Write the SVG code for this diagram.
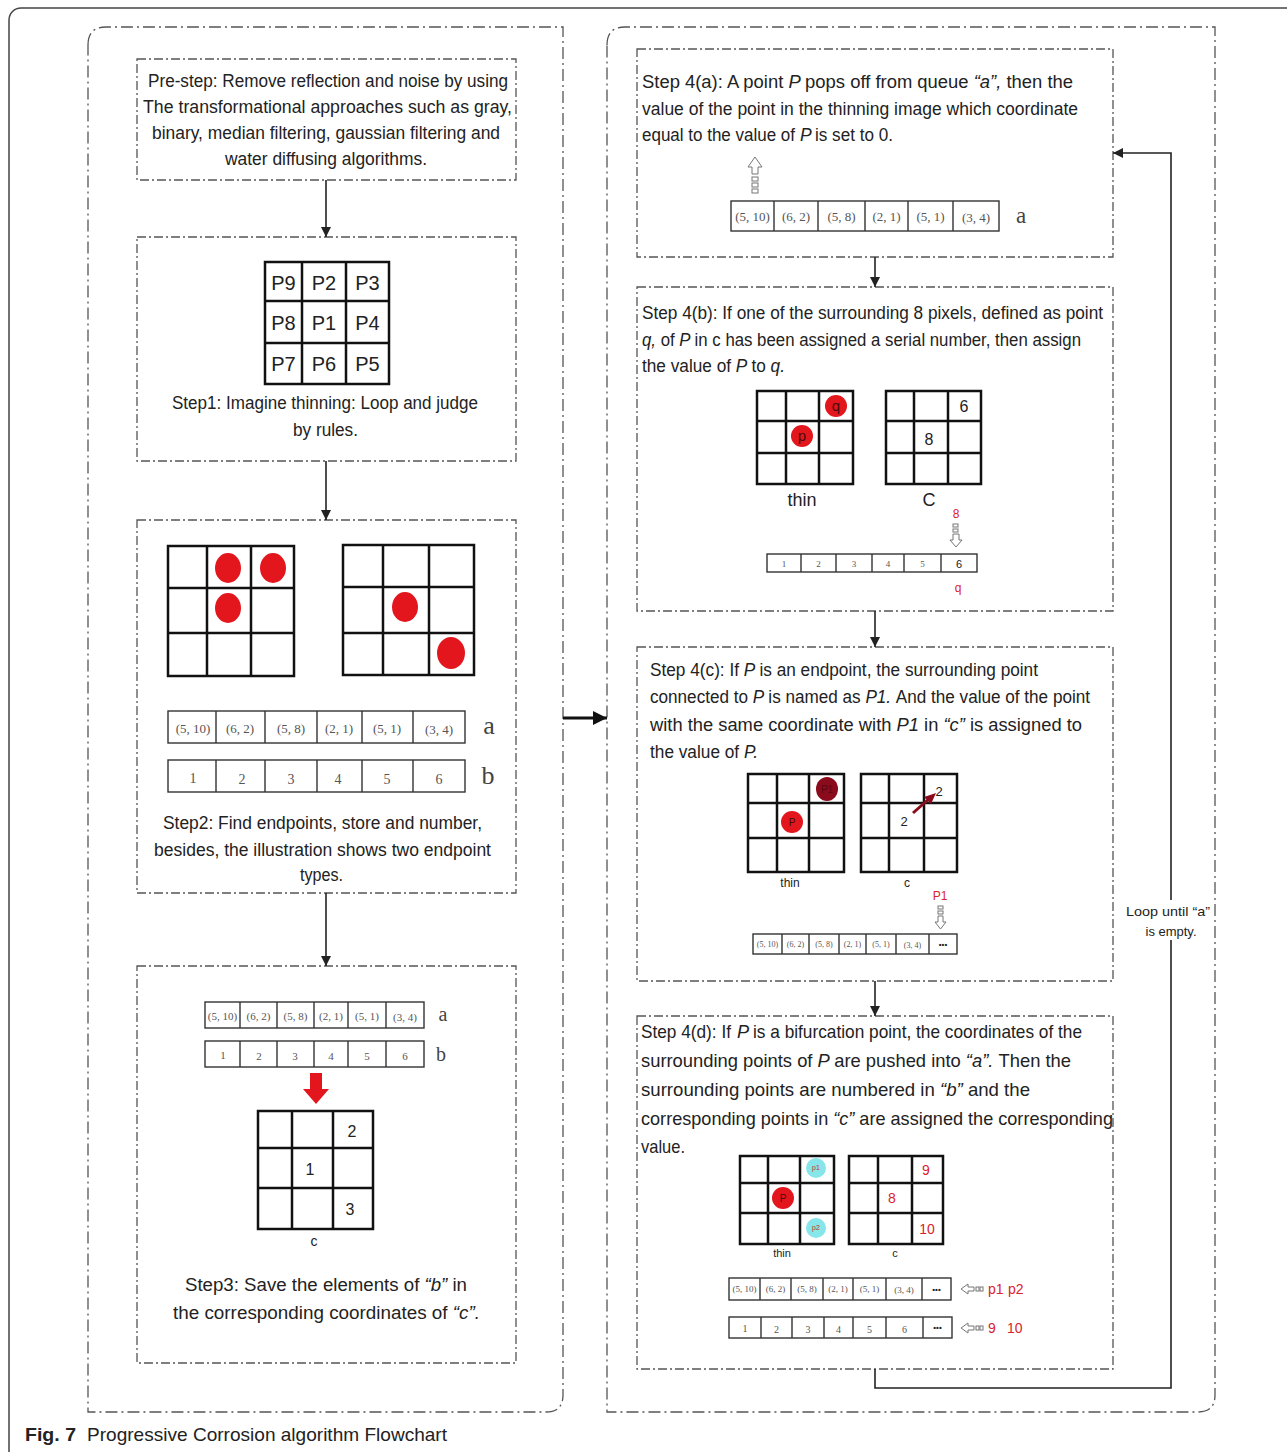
<svg xmlns="http://www.w3.org/2000/svg" width="1287" height="1452" viewBox="0 0 1287 1452">
<style>
.frame{fill:none;stroke:#444;stroke-width:1.5}
.panel{fill:none;stroke:#555;stroke-width:1.3;stroke-dasharray:12 4 2 4}
.box{fill:none;stroke:#555;stroke-width:1.3;stroke-dasharray:9 3 2 3}
.grid{fill:none;stroke:#111;stroke-width:2.5}
.gl{stroke:#111;stroke-width:2.5}
.arr{fill:#fff;stroke:#333;stroke-width:1.4}
.al{stroke:#333;stroke-width:1.4}
.t{font-family:"Liberation Sans",Arial,sans-serif;font-size:17.5px;fill:#222}
.t19{font-family:"Liberation Sans",Arial,sans-serif;font-size:18.2px;fill:#222}
.tm{font-family:"Liberation Sans",Arial,sans-serif;fill:#222;text-anchor:middle}
.lab{font-family:"Liberation Sans",Arial,sans-serif;fill:#4a0a0a;text-anchor:middle}
.sf{font-family:"Liberation Serif","Times New Roman",serif;fill:#555;text-anchor:middle}
.ab{font-family:"Liberation Serif","Times New Roman",serif;fill:#444;text-anchor:middle}
.red{fill:#e3161e}
.rt{font-family:"Liberation Sans",Arial,sans-serif;fill:#d9232a;text-anchor:middle}
.rs{font-family:"Liberation Sans",Arial,sans-serif;fill:#d9232a;text-anchor:start}
.hol{fill:#fff;stroke:#777;stroke-width:1}
.con{fill:none;stroke:#222;stroke-width:1.6}
.dots{font-family:"Liberation Sans",Arial,sans-serif;font-weight:bold;fill:#222;text-anchor:middle}
.i{font-style:italic}
</style>
<defs>
<marker id="ah" viewBox="0 0 10 10" refX="10" refY="5" markerWidth="10" markerHeight="10" markerUnits="userSpaceOnUse" orient="auto"><path d="M0,0 L10,5 L0,10 z" fill="#222"/></marker>
<marker id="ah2" viewBox="0 0 10 10" refX="10" refY="5" markerWidth="14" markerHeight="14" markerUnits="userSpaceOnUse" orient="auto"><path d="M0,0 L10,5 L0,10 z" fill="#111"/></marker>
</defs>
<rect width="1287" height="1452" fill="#fff"/>
<rect class="frame" x="9" y="8" width="1300" height="1462" rx="12"/>

<!-- panels -->
<path class="panel" d="M88,45 Q88,27 106,27 H563 V1395 Q563,1412 546,1412 H88 Z"/>
<path class="panel" d="M607,45 Q607,27 625,27 H1215 V1395 Q1215,1412 1198,1412 H607 Z"/>

<!-- Pre-step -->
<g id="prestep">
<rect class="box" x="137" y="59" width="379" height="121"/>
<text class="t" x="148" y="87" textLength="360" lengthAdjust="spacingAndGlyphs">Pre-step: Remove reflection and noise by using</text>
<text class="t" x="143" y="113" textLength="369" lengthAdjust="spacingAndGlyphs">The transformational approaches such as gray,</text>
<text class="t" x="152" y="139" textLength="348" lengthAdjust="spacingAndGlyphs">binary, median filtering, gaussian filtering and</text>
<text class="t" x="225" y="165" textLength="202" lengthAdjust="spacingAndGlyphs">water diffusing algorithms.</text>
</g>

<!-- Step1 -->
<g id="step1">
<rect class="box" x="137" y="237" width="379" height="224"/>
<rect class="grid" x="265" y="262" width="124" height="122"/>
<path class="gl" d="M302,262 V384 M346,262 V384 M265,301 H389 M265,343 H389"/>
<g class="tm" font-size="20">
<text x="283.5" y="290">P9</text><text x="324" y="290">P2</text><text x="367.5" y="290">P3</text>
<text x="283.5" y="330">P8</text><text x="324" y="330">P1</text><text x="367.5" y="330">P4</text>
<text x="283.5" y="371">P7</text><text x="324" y="371">P6</text><text x="367.5" y="371">P5</text>
</g>
<text class="t" x="172" y="409" textLength="306" lengthAdjust="spacingAndGlyphs">Step1: Imagine thinning: Loop and judge</text>
<text class="t" x="293" y="436" textLength="65" lengthAdjust="spacingAndGlyphs">by rules.</text>
</g>

<!-- Step2 -->
<g id="step2">
<rect class="box" x="137" y="520" width="379" height="373"/>
<rect class="grid" x="168" y="546" width="126" height="130"/>
<path class="gl" d="M207,546 V676 M251,546 V676 M168,588 H294 M168,633 H294"/>
<ellipse class="red" cx="228" cy="568" rx="13" ry="15"/>
<ellipse class="red" cx="273" cy="568" rx="13" ry="15"/>
<ellipse class="red" cx="228" cy="608" rx="13" ry="15"/>
<rect class="grid" x="343" y="545" width="131" height="130"/>
<path class="gl" d="M383,545 V675 M429,545 V675 M343,587 H474 M343,633 H474"/>
<ellipse class="red" cx="405" cy="607" rx="13" ry="15"/>
<ellipse class="red" cx="451" cy="653" rx="14" ry="16"/>
<rect class="arr" x="168" y="711" width="297" height="32"/>
<path class="al" d="M216,711 V743 M265,711 V743 M317,711 V743 M362,711 V743 M413,711 V743"/>
<g class="sf" font-size="13">
<text x="193" y="733">(5, 10)</text><text x="240" y="733">(6, 2)</text><text x="291" y="733">(5, 8)</text><text x="339" y="733">(2, 1)</text><text x="387" y="733">(5, 1)</text><text x="439" y="734">(3, 4)</text>
</g>
<text class="ab" x="489" y="734" font-size="26">a</text>
<rect class="arr" x="168" y="760" width="297" height="32"/>
<path class="al" d="M216,760 V792 M265,760 V792 M317,760 V792 M362,760 V792 M413,760 V792"/>
<g class="sf" font-size="14">
<text x="193" y="783">1</text><text x="242" y="784">2</text><text x="291" y="784">3</text><text x="338" y="784">4</text><text x="387" y="784">5</text><text x="439" y="784">6</text>
</g>
<text class="ab" x="488" y="784" font-size="26">b</text>
<text class="t" x="163" y="829" textLength="319" lengthAdjust="spacingAndGlyphs">Step2: Find endpoints, store and number,</text>
<text class="t" x="154" y="856" textLength="337" lengthAdjust="spacingAndGlyphs">besides, the illustration shows two endpoint</text>
<text class="t" x="300" y="881" textLength="43" lengthAdjust="spacingAndGlyphs">types.</text>
</g>

<!-- Step3 -->
<g id="step3">
<rect class="box" x="137" y="966" width="379" height="397"/>
<rect class="arr" x="205" y="1002" width="219" height="26"/>
<path class="al" d="M240,1002 V1028 M277,1002 V1028 M314,1002 V1028 M348,1002 V1028 M386,1002 V1028"/>
<g class="sf" font-size="11">
<text x="222.5" y="1020">(5, 10)</text><text x="258.5" y="1020">(6, 2)</text><text x="295.5" y="1020">(5, 8)</text><text x="331" y="1020">(2, 1)</text><text x="367" y="1020">(5, 1)</text><text x="405" y="1021">(3, 4)</text>
</g>
<text class="ab" x="443" y="1021" font-size="20">a</text>
<rect class="arr" x="205" y="1041" width="219" height="26"/>
<path class="al" d="M240,1041 V1067 M277,1041 V1067 M314,1041 V1067 M348,1041 V1067 M386,1041 V1067"/>
<g class="sf" font-size="11">
<text x="223" y="1059">1</text><text x="259" y="1060">2</text><text x="295" y="1060">3</text><text x="331" y="1060">4</text><text x="367" y="1060">5</text><text x="405" y="1060">6</text>
</g>
<text class="ab" x="441" y="1061" font-size="20">b</text>
<path d="M310,1073 H322 V1089 H329 L316,1104 L303,1089 H310 Z" fill="#e3161e"/>
<rect class="grid" x="258" y="1111" width="115" height="118"/>
<path class="gl" d="M292,1111 V1229 M333,1111 V1229 M258,1148 H373 M258,1188 H373"/>
<g class="tm" font-size="16">
<text x="352" y="1137">2</text><text x="310" y="1175">1</text><text x="350" y="1215">3</text>
</g>
<text class="tm" x="314" y="1246" font-size="14">c</text>
<text class="t" x="185" y="1291" textLength="282" lengthAdjust="spacingAndGlyphs">Step3: Save the elements of <tspan class="i">“b” </tspan>in</text>
<text class="t" x="173" y="1319" textLength="307" lengthAdjust="spacingAndGlyphs">the corresponding coordinates of <tspan class="i">“c”.</tspan></text>
</g>

<!-- Step 4(a) -->
<g id="step4a">
<rect class="box" x="637" y="49" width="476" height="208"/>
<text class="t" x="642" y="88" textLength="431" lengthAdjust="spacingAndGlyphs">Step 4(a): A point <tspan class="i">P </tspan>pops off from queue <tspan class="i">“a”, </tspan>then the</text>
<text class="t" x="642" y="115" textLength="436" lengthAdjust="spacingAndGlyphs">value of the point in the thinning image which coordinate</text>
<text class="t" x="642" y="141" textLength="153" lengthAdjust="spacingAndGlyphs">equal to the value of</text>
<text class="t i" x="800" y="141">P</text>
<text class="t" x="815" y="141" textLength="78" lengthAdjust="spacingAndGlyphs">is set to 0.</text>
<path class="hol" d="M755,157 L762,167 L758,167 L758,174 L752,174 L752,167 L748,167 Z"/>
<rect class="hol" x="752" y="177" width="6" height="4"/>
<rect class="hol" x="752" y="183" width="6" height="4"/>
<rect class="hol" x="752" y="189" width="6" height="4"/>
<rect class="arr" x="731" y="201" width="268" height="30"/>
<path class="al" d="M774,201 V231 M818,201 V231 M865,201 V231 M908,201 V231 M953,201 V231"/>
<g class="sf" font-size="13">
<text x="752.5" y="221">(5, 10)</text><text x="796" y="221">(6, 2)</text><text x="841.5" y="221">(5, 8)</text><text x="886.5" y="221">(2, 1)</text><text x="930.5" y="221">(5, 1)</text><text x="976" y="222">(3, 4)</text>
</g>
<text class="ab" x="1021" y="223" font-size="23">a</text>
</g>

<!-- Step 4(b) -->
<g id="step4b">
<rect class="box" x="637" y="287" width="476" height="324"/>
<text class="t" x="642" y="319" textLength="461" lengthAdjust="spacingAndGlyphs">Step 4(b): If one of the surrounding 8 pixels, defined as point</text>
<text class="t" x="642" y="346" textLength="439" lengthAdjust="spacingAndGlyphs"><tspan class="i">q, </tspan>of <tspan class="i">P </tspan>in c has been assigned a serial number, then assign</text>
<text class="t" x="642" y="372" textLength="143" lengthAdjust="spacingAndGlyphs">the value of <tspan class="i">P </tspan>to <tspan class="i">q.</tspan></text>
<rect class="grid" x="757" y="391" width="96" height="93"/>
<path class="gl" d="M786,391 V484 M819,391 V484 M757,421 H853 M757,453 H853"/>
<circle class="red" cx="836" cy="406" r="11"/>
<circle class="red" cx="802" cy="436" r="11"/>
<g class="lab" font-size="15"><text x="836" y="411">q</text><text x="802" y="441">p</text></g>
<text class="tm" x="802" y="506" font-size="18">thin</text>
<rect class="grid" x="886" y="391" width="95" height="93"/>
<path class="gl" d="M914,391 V484 M948,391 V484 M886,421 H981 M886,453 H981"/>
<g class="tm" font-size="16"><text x="964" y="412">6</text><text x="929" y="445">8</text></g>
<text class="tm" x="929" y="506" font-size="18">C</text>
<text class="rt" x="956" y="518" font-size="12">8</text>
<rect class="hol" x="953" y="524" width="5" height="3"/>
<rect class="hol" x="953" y="529" width="5" height="3"/>
<path class="hol" d="M953,534 L959,534 L959,540 L962,540 L956,547 L950,540 L953,540 Z"/>
<rect class="arr" x="767" y="554" width="210" height="18"/>
<path class="al" d="M801,554 V572 M836,554 V572 M872,554 V572 M904,554 V572 M941,554 V572"/>
<g class="sf" font-size="9">
<text x="784" y="567">1</text><text x="818.5" y="567">2</text><text x="854" y="567">3</text><text x="888" y="567">4</text><text x="922.5" y="567">5</text>
</g>
<text class="tm" x="959" y="568" font-size="11">6</text>
<text class="rt" x="958" y="592" font-size="12">q</text>
</g>

<!-- Step 4(c) -->
<g id="step4c">
<rect class="box" x="637" y="647" width="476" height="334"/>
<text class="t" x="650" y="676" textLength="388" lengthAdjust="spacingAndGlyphs">Step 4(c): If <tspan class="i">P </tspan>is an endpoint, the surrounding point</text>
<text class="t" x="650" y="703" textLength="440" lengthAdjust="spacingAndGlyphs">connected to <tspan class="i">P </tspan>is named as <tspan class="i">P1. </tspan>And the value of the point</text>
<text class="t" x="650" y="731" textLength="432" lengthAdjust="spacingAndGlyphs">with the same coordinate with <tspan class="i">P1 </tspan>in <tspan class="i">“c” </tspan>is assigned to</text>
<text class="t" x="650" y="758" textLength="108" lengthAdjust="spacingAndGlyphs">the value of <tspan class="i">P.</tspan></text>
<rect class="grid" x="748" y="774" width="96" height="98"/>
<path class="gl" d="M777,774 V872 M809,774 V872 M748,803 H844 M748,838 H844"/>
<ellipse cx="827" cy="789" rx="11" ry="12" fill="#8a0c1c"/>
<text class="lab" x="827" y="793" font-size="10" style="fill:#5a0610">P1</text>
<circle class="red" cx="792" cy="822" r="11"/>
<text class="lab" x="792" y="826" font-size="10">P</text>
<text class="tm" x="790" y="887" font-size="12">thin</text>
<rect class="grid" x="861" y="774" width="96" height="98"/>
<path class="gl" d="M889,774 V872 M924,774 V872 M861,803 H957 M861,838 H957"/>
<g class="tm" font-size="13"><text x="939" y="796">2</text><text x="904" y="826">2</text></g>
<path d="M913,813 L930,798" stroke="#8a0c1c" stroke-width="3"/>
<path d="M936,793 L924,797 L931,804 Z" fill="#8a0c1c"/>
<text class="tm" x="907" y="887" font-size="12">c</text>
<text class="rt" x="940" y="900" font-size="12">P1</text>
<rect class="hol" x="938" y="906" width="5" height="3"/>
<rect class="hol" x="938" y="911" width="5" height="3"/>
<path class="hol" d="M938,916 L943,916 L943,922 L946,922 L940.5,929 L935,922 L938,922 Z"/>
<rect class="arr" x="753" y="934" width="204" height="20"/>
<path class="al" d="M782,934 V954 M809,934 V954 M839,934 V954 M866,934 V954 M896,934 V954 M929,934 V954"/>
<g class="sf" font-size="8">
<text x="767.5" y="947">(5, 10)</text><text x="795.5" y="947">(6, 2)</text><text x="824" y="947">(5, 8)</text><text x="852.5" y="947">(2, 1)</text><text x="881" y="947">(5, 1)</text><text x="912.5" y="948">(3, 4)</text>
</g>
<text class="dots" x="943" y="947" font-size="8">•••</text>
</g>

<!-- Step 4(d) -->
<g id="step4d">
<rect class="box" x="637" y="1016" width="476" height="353"/>
<text class="t19" x="641" y="1038" textLength="90" lengthAdjust="spacingAndGlyphs">Step 4(d): If</text>
<text class="t19 i" x="737" y="1038">P</text>
<text class="t19" x="753" y="1038" textLength="329" lengthAdjust="spacingAndGlyphs">is a bifurcation point, the coordinates of the</text>
<text class="t19" x="641" y="1067" textLength="430" lengthAdjust="spacingAndGlyphs">surrounding points of <tspan class="i">P </tspan>are pushed into <tspan class="i">“a”. </tspan>Then the</text>
<text class="t19" x="641" y="1096" textLength="389" lengthAdjust="spacingAndGlyphs">surrounding points are numbered in <tspan class="i">“b” </tspan>and the</text>
<text class="t19" x="641" y="1125" textLength="472" lengthAdjust="spacingAndGlyphs">corresponding points in <tspan class="i">“c” </tspan>are assigned the corresponding</text>
<text class="t19" x="641" y="1153" textLength="44" lengthAdjust="spacingAndGlyphs">value.</text>
<rect class="grid" x="740" y="1156" width="94" height="88"/>
<path class="gl" d="M768,1156 V1244 M800,1156 V1244 M740,1183 H834 M740,1213 H834"/>
<circle cx="816" cy="1168" r="10" fill="#86e6ea"/>
<circle cx="816" cy="1228" r="10" fill="#86e6ea"/>
<g class="rt" font-size="7"><text x="816" y="1170">p1</text><text x="816" y="1230">p2</text></g>
<circle class="red" cx="783" cy="1198" r="11"/>
<text class="lab" x="783" y="1202" font-size="10">P</text>
<text class="tm" x="782" y="1257" font-size="11">thin</text>
<rect class="grid" x="849" y="1156" width="94" height="88"/>
<path class="gl" d="M878,1156 V1244 M912,1156 V1244 M849,1183 H943 M849,1213 H943"/>
<g class="rt" font-size="14"><text x="926" y="1175">9</text><text x="892" y="1203">8</text><text x="927" y="1234">10</text></g>
<text class="tm" x="895" y="1257" font-size="11">c</text>
<rect class="arr" x="729" y="1278" width="222" height="22"/>
<path class="al" d="M760,1278 V1300 M791,1278 V1300 M823,1278 V1300 M853,1278 V1300 M886,1278 V1300 M922,1278 V1300"/>
<g class="sf" font-size="9">
<text x="744.5" y="1292">(5, 10)</text><text x="775.5" y="1292">(6, 2)</text><text x="807" y="1292">(5, 8)</text><text x="838" y="1292">(2, 1)</text><text x="869.5" y="1292">(5, 1)</text><text x="904" y="1293">(3, 4)</text>
</g>
<text class="dots" x="936.5" y="1292" font-size="8">•••</text>
<path class="hol" d="M961,1289 L968,1284 L968,1287 L974,1287 L974,1291 L968,1291 L968,1294 Z"/>
<rect class="hol" x="976" y="1287" width="3" height="4"/>
<rect class="hol" x="980" y="1287" width="3" height="4"/>
<text class="rs" x="988" y="1294" font-size="14">p1</text>
<text class="rs" x="1008" y="1294" font-size="14">p2</text>
<rect class="arr" x="729" y="1317" width="223" height="21"/>
<path class="al" d="M761,1317 V1338 M792,1317 V1338 M824,1317 V1338 M853,1317 V1338 M886,1317 V1338 M923,1317 V1338"/>
<g class="sf" font-size="10">
<text x="745" y="1332">1</text><text x="776.5" y="1333">2</text><text x="808" y="1333">3</text><text x="838.5" y="1333">4</text><text x="869.5" y="1333">5</text><text x="904.5" y="1333">6</text>
</g>
<text class="dots" x="937.5" y="1330" font-size="8">•••</text>
<path class="hol" d="M961,1328 L968,1323 L968,1326 L974,1326 L974,1330 L968,1330 L968,1333 Z"/>
<rect class="hol" x="976" y="1326" width="3" height="4"/>
<rect class="hol" x="980" y="1326" width="3" height="4"/>
<text class="rs" x="988" y="1333" font-size="14">9</text>
<text class="rs" x="1007" y="1333" font-size="14">10</text>
</g>

<!-- connectors -->
<g id="connectors">
<line class="con" x1="326" y1="180" x2="326" y2="237" marker-end="url(#ah)"/>
<line class="con" x1="326" y1="461" x2="326" y2="520" marker-end="url(#ah)"/>
<line class="con" x1="326" y1="893" x2="326" y2="966" marker-end="url(#ah)"/>
<line class="con" x1="875" y1="257" x2="875" y2="287" marker-end="url(#ah)"/>
<line class="con" x1="875" y1="611" x2="875" y2="647" marker-end="url(#ah)"/>
<line class="con" x1="875" y1="981" x2="875" y2="1016" marker-end="url(#ah)"/>
<line x1="563" y1="718" x2="607" y2="718" stroke="#111" stroke-width="3" marker-end="url(#ah2)"/>
<polyline class="con" points="875,1369 875,1388 1171,1388 1171,153 1113,153" marker-end="url(#ah)"/>
<rect x="1122" y="900" width="92" height="40" fill="#fff"/>
<text class="tm" x="1168" y="916" font-size="13" textLength="84" lengthAdjust="spacingAndGlyphs">Loop until “a”</text>
<text class="tm" x="1171" y="936" font-size="13" textLength="51" lengthAdjust="spacingAndGlyphs">is empty.</text>
</g>

<!-- caption -->
<text x="25" y="1441" font-family="'Liberation Sans',Arial,sans-serif" font-size="19" font-weight="bold" fill="#222" textLength="51" lengthAdjust="spacingAndGlyphs">Fig. 7</text>
<text x="87" y="1441" font-family="'Liberation Sans',Arial,sans-serif" font-size="19" fill="#222" textLength="360" lengthAdjust="spacingAndGlyphs">Progressive Corrosion algorithm Flowchart</text>
</svg>
